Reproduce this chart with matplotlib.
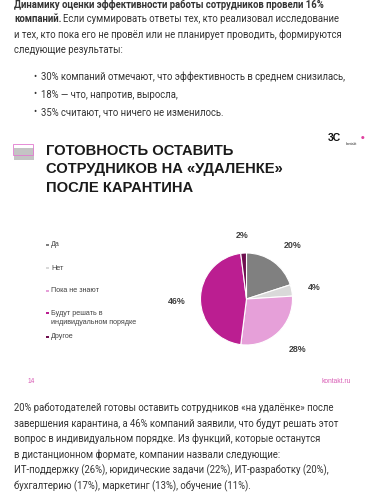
import matplotlib.pyplot as plt
from matplotlib.patches import Rectangle

W, H = 381, 500

# pie data
categories = ['Да', 'Нет', 'Пока не знают', 'Будут решать в\nиндивидуальном порядке', 'Другое']
values = [20, 4, 28, 46, 2]
colors = ['#808080', '#d9d9d9', '#e6a0d9', '#bb1e91', '#6e0f4f']

# page text
para_top = [
    ('Динамику оценки эффективности работы сотрудников провели 16%', True),
    ('компаний.', True),
    ('и тех, кто пока его не провёл или не планирует проводить, формируются', False),
    ('следующие результаты:', False),
]
bullets = [
    '30% компаний отмечают, что эффективность в среднем снизилась,',
    '18% — что, напротив, выросла,',
    '35% считают, что ничего не изменилось.',
]
para_bottom = [
    '20% работодателей готовы оставить сотрудников «на удалёнке» после',
    'завершения карантина, а 46% компаний заявили, что будут решать этот',
    'вопрос в индивидуальном порядке. Из функций, которые останутся',
    'в дистанционном формате, компании назвали следующие:',
    'ИТ-поддержку (26%), юридические задачи (22%), ИТ-разработку (20%),',
    'бухгалтерию (17%), маркетинг (13%), обучение (11%).',
]
title_lines = ['ГОТОВНОСТЬ ОСТАВИТЬ', 'СОТРУДНИКОВ НА «УДАЛЕНКЕ»', 'ПОСЛЕ КАРАНТИНА']

fig = plt.figure(figsize=(W / 100, H / 100), dpi=100)
fig.patch.set_facecolor('white')


def px(x, y):
    return x / W, 1 - y / H


def txt(x, y, s, **kw):
    fx, fy = px(x, y)
    return fig.text(fx, fy, s, **kw)


page = dict(family='Roboto', fontsize=6.85, color='#333333', va='center')

# top paragraph
txt(14, 4.5, para_top[0][0], fontweight='bold', **page)
txt(14, 19, para_top[1][0], fontweight='bold', **page)
txt(63, 19, 'Если суммировать ответы тех, кто реализовал исследование', **page)
txt(14, 34.5, para_top[2][0], **page)
txt(14, 50, para_top[3][0], **page)
for i, b in enumerate(bullets):
    y = 77 + i * 17.5
    txt(33, y, '•', **page)
    txt(41, y, b, **page)

# bottom paragraph
for i, line in enumerate(para_bottom):
    txt(14, 408 + i * 15.6, line, **page)

# title icon
gx, gy = px(14, 160)
fig.patches.append(Rectangle((gx, gy), 20 / W, 12 / H, transform=fig.transFigure,
                             facecolor='#c4c4c4', edgecolor='none'))
px0, py0 = px(13, 155)
fig.patches.append(Rectangle((px0, py0), 20 / W, 11 / H, transform=fig.transFigure,
                             facecolor='none', edgecolor='#e27ad0', lw=0.6))

# title
for i, t in enumerate(title_lines):
    txt(46, 155 + i * 18.5, t, family='Liberation Sans', fontweight='bold',
        fontsize=10.6, color='#1a1a1a')

# logo
txt(328, 141, '3C', family='Liberation Sans', fontweight='bold', fontsize=7.5,
    color='#111111')
txt(346, 145, 'kontakt', family='Liberation Sans', fontsize=2.5, color='#333333')
txt(361, 139, '●', family='DejaVu Sans', fontsize=3, color='#e0409f')

# pie
cx, cy, r = 246.5, 299, 57.5
ax = fig.add_axes([(cx - r) / W, (H - cy - r) / H, 2 * r / W, 2 * r / H])
ax.pie(values, colors=colors, startangle=90, counterclock=False,
       wedgeprops=dict(edgecolor='white', linewidth=0.8))
ax.set_aspect('equal')
ax.axis('off')

# pie labels
label_pos = [(293, 246), (314, 288), (298, 349), (177, 301), (242, 235)]
for (x, y), v in zip(label_pos, values):
    txt(x, y, f'{v}%', family='Liberation Sans', fontweight='bold', fontsize=6.4,
        color='#404040', ha='center', va='center')

# legend
leg_y = [245, 268, 291, 313, 337]
for y, c, lab in zip(leg_y, colors, categories):
    mx, my = px(46, y + 1.4)
    fig.patches.append(Rectangle((mx, my), 2.8 / W, 2.8 / H, transform=fig.transFigure,
                                 facecolor=c, edgecolor='none'))
    ty = y + 5 if '\n' in lab else y
    txt(51, ty, lab, family='Liberation Sans', fontsize=5.1, color='#404040',
        va='center', linespacing=1.45)

# footer
txt(28, 383, '14', family='Liberation Sans', fontsize=4.8, color='#d95cb5')
txt(351, 383, 'kontakt.ru', family='Liberation Sans', fontsize=4.8, color='#d95cb5',
    ha='right')

fig.savefig('out.png', dpi=100)
